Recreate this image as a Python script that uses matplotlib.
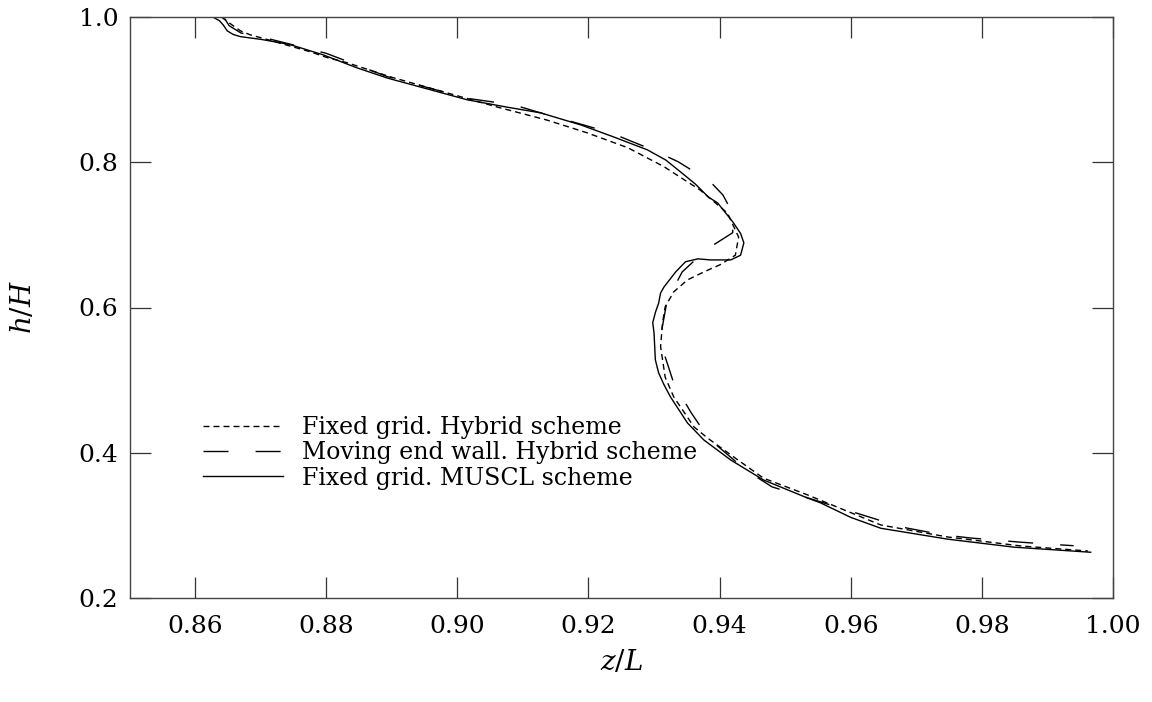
import matplotlib
matplotlib.use("Agg")
import matplotlib.pyplot as plt

plt.rcParams['font.family'] = ['DejaVu Serif']
plt.rcParams['mathtext.fontset'] = 'dejavuserif'
plt.rcParams['lines.scale_dashes'] = False

# Fixed grid, MUSCL scheme (solid)
z_muscl = [0.8627, 0.8637, 0.8643, 0.8649, 0.8658, 0.8669, 0.8702, 0.8745, 0.8795, 0.8847, 0.8893,
           0.8950, 0.9015, 0.9075, 0.9127, 0.9188, 0.9238, 0.9290, 0.9318, 0.9340, 0.9363, 0.9383, 0.9397, 0.9420,
           0.9432, 0.9437, 0.9432, 0.9417, 0.9386, 0.9367, 0.9348, 0.9333, 0.9315, 0.9310,
           0.9307, 0.9302, 0.9298, 0.9300, 0.9302, 0.9307, 0.9315, 0.9325, 0.9351, 0.9376,
           0.9417, 0.9467, 0.9534, 0.9554, 0.9600, 0.9646, 0.9748, 0.9849, 0.9966]
h_muscl = [1.000, 0.995, 0.989, 0.981, 0.976, 0.973, 0.969, 0.962, 0.948, 0.930, 0.916,
           0.902, 0.886, 0.876, 0.868, 0.8515, 0.835, 0.817, 0.803, 0.787, 0.770, 0.752, 0.744, 0.718,
           0.702, 0.689, 0.672, 0.6655, 0.6655, 0.667, 0.663, 0.649, 0.628, 0.620,
           0.606, 0.593, 0.579, 0.565, 0.528, 0.510, 0.494, 0.477, 0.441, 0.4176,
           0.390, 0.3625, 0.3377, 0.331, 0.311, 0.296, 0.281, 0.270, 0.263]

# Fixed grid, Hybrid scheme (short dashes)
z_hyb = [0.8640, 0.8655, 0.8669, 0.8684, 0.8710, 0.8745, 0.8776, 0.8802, 0.8832,
         0.8900, 0.9061, 0.9137, 0.9198, 0.9260, 0.9315, 0.9351, 0.9370, 0.9412,
         0.9429, 0.9424, 0.9401, 0.9376, 0.9351, 0.9330, 0.9317, 0.9313, 0.9310,
         0.9317, 0.9330, 0.9361, 0.9382, 0.9428, 0.9467, 0.9534, 0.9646, 0.9748,
         0.9860, 0.9962]
h_hyb = [1.000, 0.990, 0.981, 0.9755, 0.969, 0.960, 0.952, 0.944, 0.937,
         0.917, 0.876, 0.858, 0.8405, 0.820, 0.794, 0.773, 0.762, 0.730,
         0.697, 0.672, 0.659, 0.649, 0.638, 0.6215, 0.601, 0.579, 0.546,
         0.504, 0.477, 0.4355, 0.420, 0.390, 0.365, 0.342, 0.3005, 0.284,
         0.2716, 0.2647]

# Moving end wall, Hybrid scheme (long dashes)
z_mov = [0.8645, 0.8652, 0.8670, 0.8699, 0.8730, 0.8800, 0.8893, 0.9015, 0.9086,
         0.9127, 0.9192, 0.9234, 0.9298, 0.9337, 0.9386, 0.9405, 0.9420, 0.9420,
         0.9380, 0.9343, 0.9320, 0.9312, 0.9317, 0.9330, 0.9356, 0.9383, 0.9440,
         0.9480, 0.9534, 0.9676, 0.9740, 0.9783, 0.9857, 0.9898, 0.9940]
h_mov = [0.998, 0.988, 0.978, 0.973, 0.966, 0.950, 0.918, 0.888, 0.879,
         0.868, 0.8515, 0.8405, 0.817, 0.8006, 0.773, 0.755, 0.730, 0.703,
         0.680, 0.649, 0.610, 0.570, 0.532, 0.496, 0.456, 0.420, 0.376,
         0.353, 0.338, 0.298, 0.287, 0.2826, 0.277, 0.2744, 0.272]

xticks = [0.86, 0.88, 0.90, 0.92, 0.94, 0.96, 0.98, 1.00]
yticks = [0.2, 0.4, 0.6, 0.8, 1.0]

fig = plt.figure(figsize=(11.52, 7.02), dpi=100)
ax = fig.add_axes([129.5 / 1152, 1 - 598 / 702, (1113 - 129.5) / 1152, (598 - 17) / 702])

lw = 1.0
ax.plot(z_hyb, h_hyb, color='black', lw=lw, dashes=(4.3, 2.9), label='Fixed grid. Hybrid scheme')
ax.plot(z_mov, h_mov, color='black', lw=lw, dashes=(18, 19.5), label='Moving end wall. Hybrid scheme')
ax.plot(z_muscl, h_muscl, color='black', lw=lw, label='Fixed grid. MUSCL scheme')

ax.set_xlim(0.85, 1.00)
ax.set_ylim(0.2, 1.0)
ax.set_xticks(xticks)
ax.set_xticklabels([f"{v:.2f}" for v in xticks])
ax.set_yticks(yticks)
ax.set_yticklabels([f"{v:.1f}" for v in yticks])

for s in ax.spines.values():
    s.set_color('#444444')
    s.set_linewidth(1.0)
ax.tick_params(direction='in', length=15, width=0.9, color='#333333',
               top=True, right=True, labelsize=18)
ax.tick_params(axis='x', pad=12)
ax.tick_params(axis='y', pad=8)

ax.set_xlabel(r'$z/L$', fontsize=20)
ax.set_ylabel(r'$h/H$', fontsize=20)
ax.xaxis.set_label_coords(0.5, -0.088)
ax.yaxis.set_label_coords(-0.094, 0.5)

leg = ax.legend(loc='center left', bbox_to_anchor=(0.065, 0.25), frameon=False,
                fontsize=17, handlelength=3.4, handletextpad=0.8,
                labelspacing=0.1, borderaxespad=0)

fig.savefig('out.png', dpi=100)
